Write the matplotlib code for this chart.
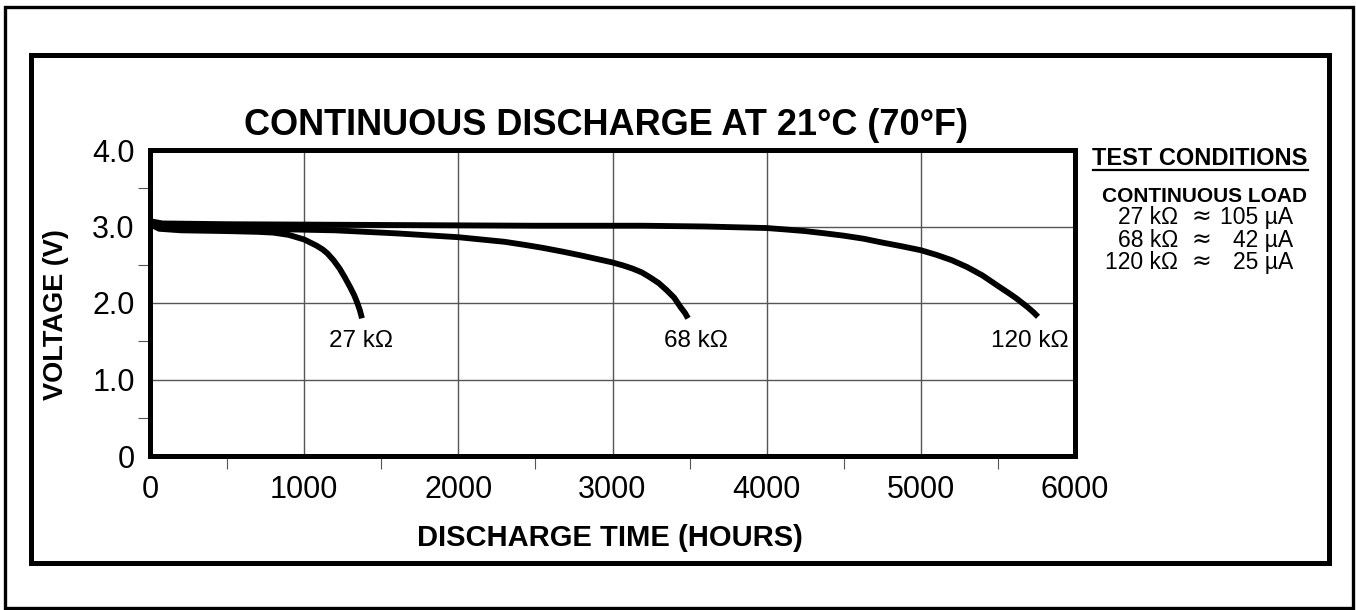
import matplotlib.pyplot as plt
from matplotlib.patches import Rectangle
from matplotlib.lines import Line2D
from matplotlib.ticker import MultipleLocator

plt.rcParams['font.family'] = ['Liberation Sans', 'DejaVu Sans']

# discharge curves (hours, volts)
h_27k = [0, 60, 200, 500, 700, 800, 900, 950, 1000, 1040, 1080, 1120, 1150, 1190,
         1230, 1265, 1300, 1325, 1345, 1362, 1375]
v_27k = [3.03, 2.97, 2.95, 2.94, 2.93, 2.92, 2.89, 2.86, 2.83, 2.79, 2.75, 2.70, 2.65, 2.56,
         2.45, 2.33, 2.20, 2.10, 2.00, 1.90, 1.80]

h_68k = [0, 80, 300, 700, 1200, 1600, 2000, 2150, 2300, 2430, 2550, 2680, 2800, 2900,
         3000, 3070, 3130, 3190, 3240, 3300, 3350, 3400, 3440, 3470, 3490]
v_68k = [3.05, 2.99, 2.98, 2.97, 2.95, 2.91, 2.86, 2.83, 2.80, 2.76, 2.72, 2.67, 2.62, 2.575,
         2.53, 2.49, 2.45, 2.40, 2.34, 2.26, 2.17, 2.07, 1.95, 1.87, 1.80]

h_120k = [0, 80, 500, 1500, 2500, 3200, 3600, 4000, 4130, 4250, 4380, 4500, 4630, 4750,
          4880, 5000, 5100, 5200, 5300, 5400, 5510, 5570, 5620, 5690, 5730, 5760]
v_120k = [3.07, 3.04, 3.03, 3.02, 3.01, 3.01, 3.00, 2.98, 2.96, 2.94, 2.91, 2.88, 2.84, 2.79,
          2.74, 2.69, 2.63, 2.56, 2.47, 2.36, 2.21, 2.13, 2.06, 1.95, 1.88, 1.82]

curve_labels = ['27 k\u03a9', '68 k\u03a9', '120 k\u03a9']
label_hours = [1369, 3541, 5708]
label_volts = [1.50, 1.50, 1.50]

x_ticks = [0, 1000, 2000, 3000, 4000, 5000, 6000]
y_ticks = [0, 1.0, 2.0, 3.0, 4.0]
y_tick_labels = ['0', '1.0', '2.0', '3.0', '4.0']

loads = ['27 k\u03a9', '68 k\u03a9', '120 k\u03a9']
currents = ['105 \u00b5A', '42 \u00b5A', '25 \u00b5A']

W, H = 1356, 610
fig = plt.figure(figsize=(W / 100, H / 100), dpi=100)


def fx(px):
    return px / W


def fy(py):
    return 1 - py / H


# frames around the whole thing
fig.add_artist(Rectangle((fx(4.5), fy(608)), fx(1353) - fx(4.5), fy(6.5) - fy(608),
                         transform=fig.transFigure, fill=False, lw=2.4, ec='black'))
fig.add_artist(Rectangle((fx(30.5), fy(563)), fx(1328.5) - fx(30.5), fy(55) - fy(563),
                         transform=fig.transFigure, fill=False, lw=3.6, ec='black'))

ax = fig.add_axes([fx(150), fy(456), fx(1075) - fx(150), fy(150) - fy(456)])

for hs, vs in [(h_27k, v_27k), (h_68k, v_68k), (h_120k, v_120k)]:
    ax.plot(hs, vs, color='black', lw=4.2, solid_capstyle='butt', solid_joinstyle='round', zorder=3)

for lab, hx, vy in zip(curve_labels, label_hours, label_volts):
    ax.text(hx, vy, lab, ha='center', va='center', fontsize=17.5)

ax.set_xlim(0, 6000)
ax.set_ylim(0, 4.0)
ax.set_xticks(x_ticks)
ax.set_yticks(y_ticks, labels=y_tick_labels)
ax.xaxis.set_minor_locator(MultipleLocator(500))
ax.yaxis.set_minor_locator(MultipleLocator(0.5))
ax.grid(True, which='major', color='#555555', lw=1.0)
ax.tick_params(which='major', length=0, labelsize=22)
ax.tick_params(axis='x', which='major', pad=14)
ax.tick_params(axis='y', which='major', pad=11)
ax.tick_params(which='minor', length=9, width=0.8, color='#555555', direction='out')
for s in ax.spines.values():
    s.set_linewidth(3.6)
    s.set_zorder(4)

fig.text(fx(606), fy(135), 'CONTINUOUS DISCHARGE AT 21\u00b0C (70\u00b0F)',
         ha='center', va='baseline', fontsize=26, fontweight='bold')
fig.text(fx(610), fy(546), 'DISCHARGE TIME (HOURS)', ha='center', va='baseline',
         fontsize=21, fontweight='bold')
fig.text(fx(56), fy(315), 'VOLTAGE (V)', ha='center', va='center', rotation=90,
         fontsize=19.5, fontweight='bold')

# test conditions box
fig.text(fx(1200), fy(165), 'TEST CONDITIONS', ha='center', va='baseline',
         fontsize=17, fontweight='bold')
fig.add_artist(Line2D([fx(1093), fx(1308)], [fy(170), fy(170)], transform=fig.transFigure,
                      color='black', lw=1.6))
fig.text(fx(1205), fy(202), 'CONTINUOUS LOAD', ha='center', va='baseline',
         fontsize=15, fontweight='bold')
for i, (ld, cur) in enumerate(zip(loads, currents)):
    yb = fy(224 + 22.5 * i)
    fig.text(fx(1178), yb, ld, ha='right', va='baseline', fontsize=16.5)
    fig.text(fx(1201), yb, '\u2248', ha='center', va='baseline', fontsize=17,
             family=['DejaVu Sans'])
    fig.text(fx(1293), yb, cur, ha='right', va='baseline', fontsize=16.5)

fig.savefig('out.png', dpi=100)
